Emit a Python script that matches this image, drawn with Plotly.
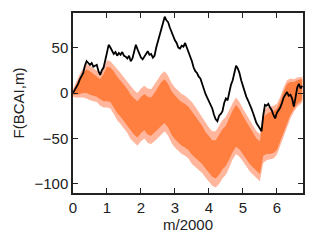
import plotly.graph_objects as go

# Black curve: F(BCAI, m), sampled every 0.05 in m/2000
line_x = [round(i * 0.05, 2) for i in range(136)]
line_y = [0, 3, 7, 10, 15, 18, 22, 30, 35, 33,
          31, 33, 29, 30, 31, 24, 20, 25, 28, 36,
          45, 53, 50, 46, 43, 45, 41, 44, 42, 45,
          41, 40, 38, 41, 35, 38, 46, 53, 48, 43,
          39, 37, 40, 44, 46, 42, 43, 39, 41, 50,
          57, 64, 70, 79, 84, 80, 78, 72, 67, 61,
          58, 55, 50, 49, 52, 51, 55, 50, 45, 41,
          35, 28, 24, 22, 18, 16, 10, 4, -1, -5,
          -9, -13, -17, -24, -29, -31, -25, -23, -20, -11,
          -6, -8, 1, 9, 14, 21, 30, 27, 22, 14,
          8, 1, -4, -8, -12, -17, -22, -29, -33, -36,
          -39, -42, -25, -13, -14, -12, -16, -19, -24, -28,
          -22, -19, -16, -11, -5, -2, 1, -3, -2, -6,
          -15, -5, 6, 10, 5, 8]

# Orange band (random model), sampled every 0.1
band_x = [round(i * 0.1, 2) for i in range(68)] + [6.75]
band_center = [0, 4, 8, 11, 13, 11, 9, 7, 4, 6,
               10, 9, 4, -2, -6, -11, -16, -22, -26, -29,
               -24, -21, -25, -26, -22, -17, -12, -9, -14, -22,
               -27, -31, -34, -36, -39, -44, -48, -53, -57, -63,
               -68, -72, -73, -68, -62, -58, -50, -42, -36, -40,
               -46, -52, -58, -63, -68, -71, -48, -45, -44, -43,
               -40, -31, -20, -11, -6, -3, 1, 3, 4]
band_inner_half = [2, 6, 9, 11, 13, 13, 12, 11, 11, 15,
                   19, 19, 20, 20, 20, 20, 20, 20, 20, 20,
                   20, 20, 21, 21, 22, 23, 24, 24, 24, 24,
                   24, 24, 24, 24, 24, 24, 23, 22, 21, 20,
                   20, 20, 21, 22, 22, 22, 23, 23, 23, 22,
                   21, 21, 20, 19, 18, 18, 21, 22, 23, 23,
                   23, 22, 22, 21, 18, 15, 13, 12, 11]
band_outer_half = [4, 9, 13, 16, 19, 19, 18, 17, 18, 22,
                   26, 26, 27, 28, 28, 28, 28, 29, 29, 29,
                   29, 29, 30, 30, 31, 32, 33, 33, 33, 33,
                   33, 33, 33, 33, 33, 34, 33, 32, 31, 30,
                   30, 30, 31, 32, 32, 32, 32, 31, 31, 30,
                   29, 29, 28, 27, 26, 26, 29, 29, 29, 29,
                   28, 27, 26, 25, 22, 18, 16, 15, 14]

x_ticks = [0, 1, 2, 3, 4, 5, 6]
y_ticks = [-100, -50, 0, 50]

DARK = "#FF7F40"
LIGHT = "#FFB69C"

outer_lo = [c - w for c, w in zip(band_center, band_outer_half)]
outer_hi = [c + w for c, w in zip(band_center, band_outer_half)]
inner_lo = [c - w for c, w in zip(band_center, band_inner_half)]
inner_hi = [c + w for c, w in zip(band_center, band_inner_half)]

fig = go.Figure()
fig.add_trace(go.Scatter(x=band_x, y=outer_lo, mode="lines", line=dict(width=0, color=LIGHT),
                         showlegend=False, hoverinfo="skip"))
fig.add_trace(go.Scatter(x=band_x, y=outer_hi, mode="lines", line=dict(width=0, color=LIGHT),
                         fill="tonexty", fillcolor=LIGHT, showlegend=False, hoverinfo="skip"))
fig.add_trace(go.Scatter(x=band_x, y=inner_lo, mode="lines", line=dict(width=0, color=DARK),
                         showlegend=False, hoverinfo="skip"))
fig.add_trace(go.Scatter(x=band_x, y=inner_hi, mode="lines", line=dict(width=0, color=DARK),
                         fill="tonexty", fillcolor=DARK, showlegend=False, hoverinfo="skip"))
fig.add_trace(go.Scatter(x=line_x, y=line_y, mode="lines", line=dict(width=1.8, color="black"),
                         showlegend=False))

axis_common = dict(
    showgrid=False, zeroline=False, showline=True, linecolor="#222222", linewidth=1.5,
    mirror="ticks", ticks="inside", ticklen=5, tickwidth=1, tickcolor="#222222",
    tickfont=dict(size=15, color="#222222"),
)

fig.update_layout(
    width=316, height=244,
    margin=dict(l=73, r=13, t=13, b=51),
    paper_bgcolor="white", plot_bgcolor="white",
    font=dict(family="Liberation Sans, Arial, sans-serif", size=15, color="#222222"),
    xaxis=dict(range=[0, 6.77], tickvals=x_ticks, ticktext=[str(v) for v in x_ticks],
               title=dict(text="m/2000", font=dict(size=15), standoff=4), **axis_common),
    yaxis=dict(range=[-110, 88], tickvals=y_ticks, ticktext=["\u2212100", "\u221250", "0", "50"],
               title=dict(text="F(BCAI,m)", font=dict(size=15), standoff=6), **axis_common),
)

fig.write_html("out.html", config={"displayModeBar": False},
               post_script="document.body.style.margin='0';")
